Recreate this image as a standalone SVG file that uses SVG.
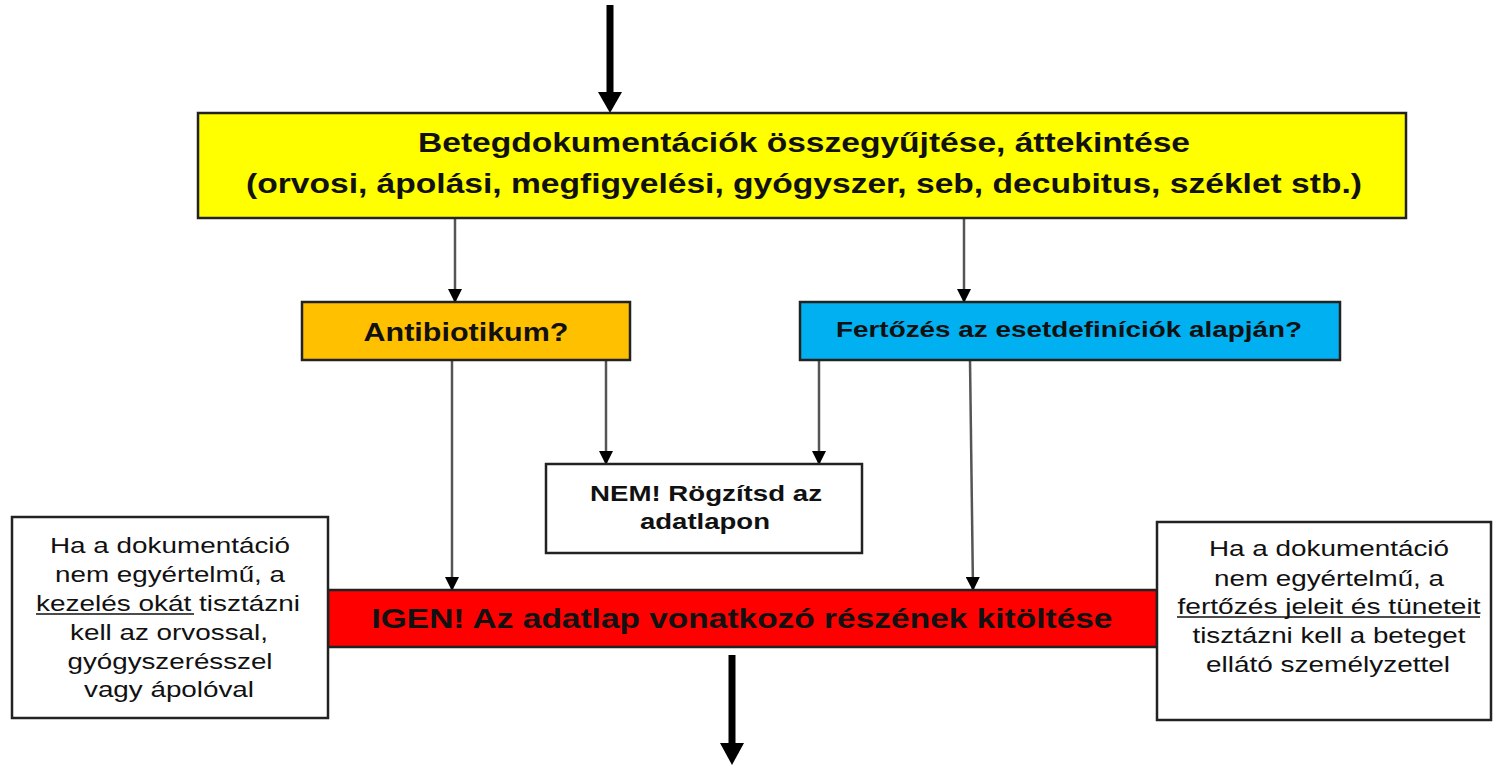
<svg xmlns="http://www.w3.org/2000/svg" width="1495" height="765" viewBox="0 0 1495 765">
<style>
.box{stroke:#222;stroke-width:2.5}
.t{font-family:"Liberation Sans",Arial,sans-serif;fill:#111;text-anchor:middle}
.b{font-weight:bold}
.n{font-size:22px}
.c{stroke:#555;stroke-width:2.5;fill:none}
.k{stroke:#000;stroke-width:7;fill:none}
.u{stroke:#111;stroke-width:1.6}
</style>
<defs>
<marker id="sh" markerWidth="14" markerHeight="14" refX="13" refY="7" orient="auto" markerUnits="userSpaceOnUse" viewBox="0 0 14 14">
<path d="M0,0 L14,7 L0,14 Z" fill="#000"/>
</marker>
</defs>
<rect width="1495" height="765" fill="#fff"/>

<g id="connectors">
<line class="k" x1="610" y1="5" x2="610" y2="92"/>
<path d="M598,92 L622,92 L610,113 Z" fill="#000"/>
<line class="c" x1="455" y1="218" x2="455" y2="302" marker-end="url(#sh)"/>
<line class="c" x1="964" y1="218" x2="964" y2="302" marker-end="url(#sh)"/>
<line class="c" x1="452" y1="360" x2="452" y2="590" marker-end="url(#sh)"/>
<line class="c" x1="606" y1="360" x2="606" y2="464" marker-end="url(#sh)"/>
<line class="c" x1="819" y1="360" x2="819" y2="464" marker-end="url(#sh)"/>
<line class="c" x1="970" y1="360" x2="973" y2="590" marker-end="url(#sh)"/>
<line class="k" x1="732" y1="655" x2="732" y2="744"/>
<path d="M720,743 L744,743 L732,765 Z" fill="#000"/>
</g>

<g id="n-docs">
<rect class="box" x="198" y="113" width="1208" height="105" fill="#ffff00"/>
<text class="t b" x="804" y="152" font-size="27" textLength="772" lengthAdjust="spacingAndGlyphs">Betegdokumentációk összegyűjtése, áttekintése</text>
<text class="t b" x="804" y="193" font-size="27" textLength="1116" lengthAdjust="spacingAndGlyphs">(orvosi, ápolási, megfigyelési, gyógyszer, seb, decubitus, széklet stb.)</text>
</g>

<g id="n-antibiotic">
<rect class="box" x="302" y="302" width="328" height="58" fill="#ffc000"/>
<text class="t b" x="466" y="341" font-size="25" textLength="205" lengthAdjust="spacingAndGlyphs">Antibiotikum?</text>
</g>

<g id="n-infection">
<rect class="box" x="800" y="302" width="540" height="58" fill="#00b0f0"/>
<text class="t b" x="1069" y="337" font-size="22" textLength="466" lengthAdjust="spacingAndGlyphs">Fertőzés az esetdefiníciók alapján?</text>
</g>

<g id="n-no">
<rect class="box" x="546" y="464" width="316" height="89" fill="#fff"/>
<text class="t b" x="706" y="501" font-size="22" textLength="232" lengthAdjust="spacingAndGlyphs">NEM! Rögzítsd az</text>
<text class="t b" x="705" y="529" font-size="22" textLength="130" lengthAdjust="spacingAndGlyphs">adatlapon</text>
</g>

<g id="n-yes">
<rect class="box" x="328" y="590" width="829" height="57" fill="#ff0000"/>
<text class="t b" x="742" y="628" font-size="27" textLength="741" lengthAdjust="spacingAndGlyphs">IGEN! Az adatlap vonatkozó részének kitöltése</text>
</g>

<g id="n-note-left">
<rect class="box" x="12" y="517" width="316" height="201" fill="#fff"/>
<text class="t n" x="170" y="553" textLength="240" lengthAdjust="spacingAndGlyphs">Ha a dokumentáció</text>
<text class="t n" x="170" y="582" textLength="230" lengthAdjust="spacingAndGlyphs">nem egyértelmű, a</text>
<text class="t n" x="168" y="611" textLength="264" lengthAdjust="spacingAndGlyphs">kezelés okát tisztázni</text>
<line class="u" x1="36" y1="614" x2="194" y2="614"/>
<text class="t n" x="169" y="640" textLength="198" lengthAdjust="spacingAndGlyphs">kell az orvossal,</text>
<text class="t n" x="170" y="669" textLength="205" lengthAdjust="spacingAndGlyphs">gyógyszerésszel</text>
<text class="t n" x="169" y="697" textLength="170" lengthAdjust="spacingAndGlyphs">vagy ápolóval</text>
</g>

<g id="n-note-right">
<rect class="box" x="1157" y="522" width="334" height="198" fill="#fff"/>
<text class="t n" x="1329" y="556" textLength="240" lengthAdjust="spacingAndGlyphs">Ha a dokumentáció</text>
<text class="t n" x="1329" y="586" textLength="230" lengthAdjust="spacingAndGlyphs">nem egyértelmű, a</text>
<text class="t n" x="1329" y="614" textLength="303" lengthAdjust="spacingAndGlyphs">fertőzés jeleit és tüneteit</text>
<line class="u" x1="1177" y1="617" x2="1480" y2="617"/>
<text class="t n" x="1329" y="643" textLength="273" lengthAdjust="spacingAndGlyphs">tisztázni kell a beteget</text>
<text class="t n" x="1328" y="672" textLength="244" lengthAdjust="spacingAndGlyphs">ellátó személyzettel</text>
</g>
</svg>
